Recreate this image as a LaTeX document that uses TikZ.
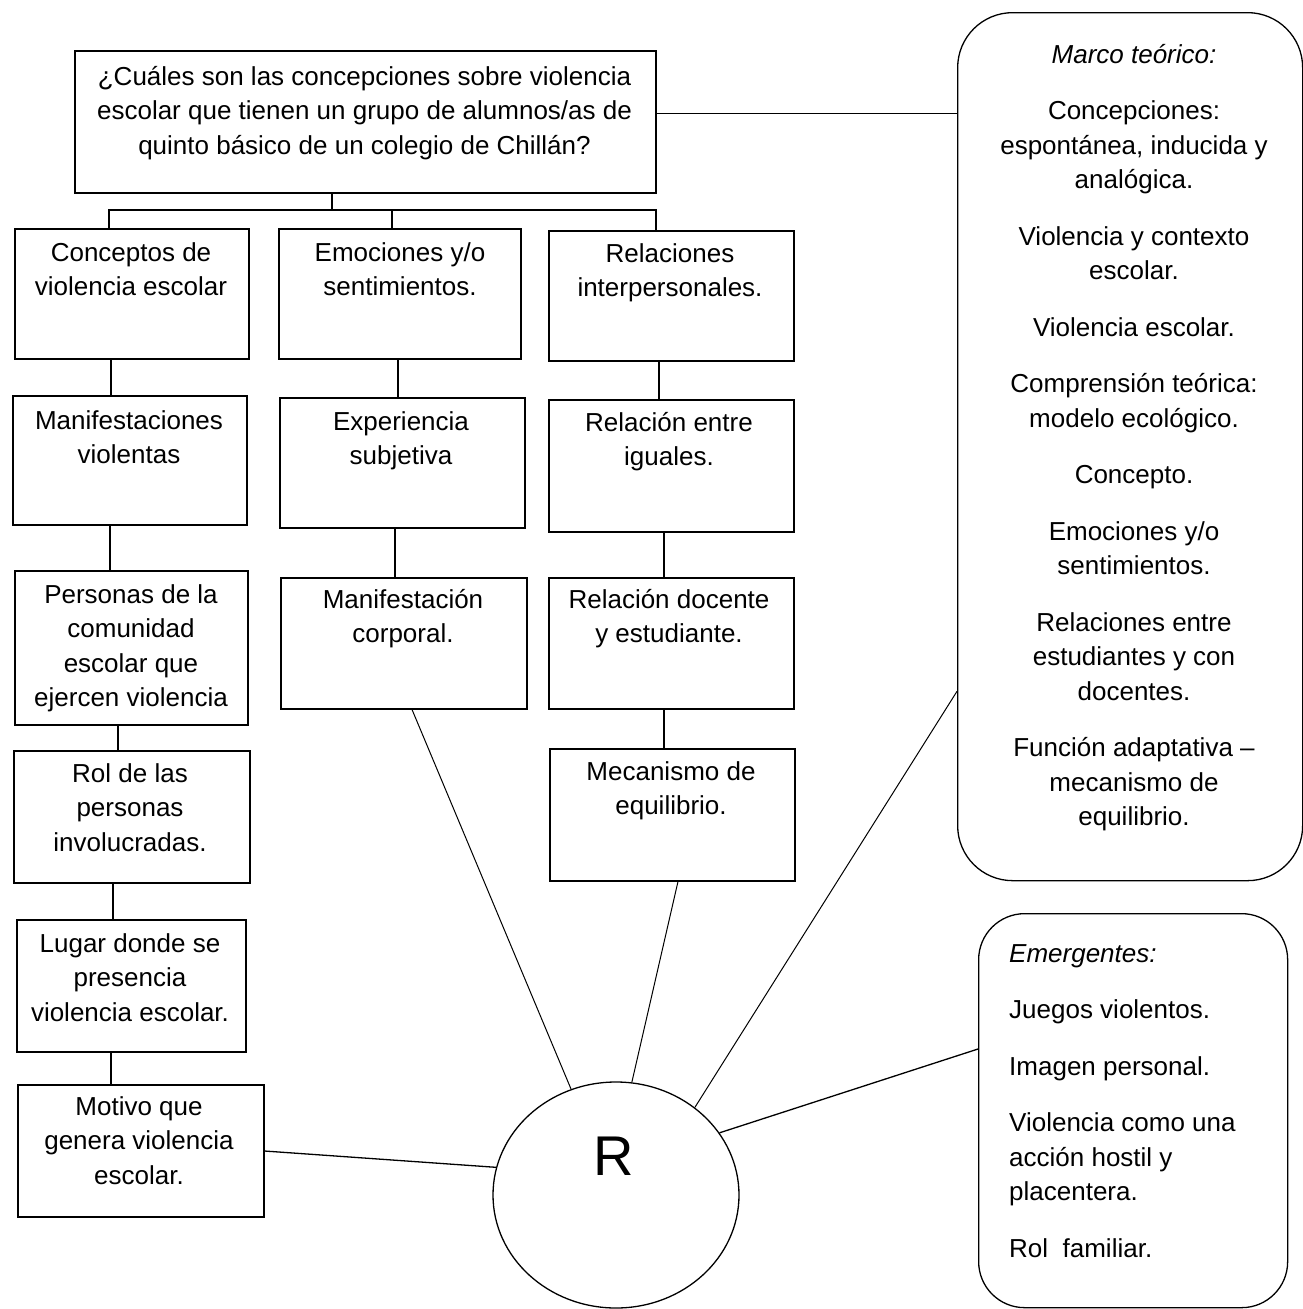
\documentclass[tikz,border=0pt]{standalone}
\usepackage{fontspec}
\setmainfont{Liberation Sans}
\usetikzlibrary{shapes.geometric}
\newcommand\tst{\rule{0pt}{24pt}}
\begin{document}
\begin{tikzpicture}[x=1pt,y=-1pt,
  box/.style={draw, line width=1.5pt, inner sep=0pt, anchor=north west},
  rbox/.style={draw, line width=1.3pt, inner sep=0pt, anchor=north west},
  txt/.style={inner sep=0pt, anchor=north, align=center, font=\fontsize{26}{34.5}\selectfont},
  conn/.style={line width=1.3pt},
  thinl/.style={line width=1pt}]
\useasboundingbox (0,0) rectangle (1303,1309);
\clip (0,0) rectangle (1303,1309);

% boxes
\node[box, minimum width=581pt, minimum height=142pt] (top) at (74,50) {};
\node[box, minimum width=234pt, minimum height=130pt] (a1) at (14,228) {};
\node[box, minimum width=242pt, minimum height=130pt] (b1) at (278,228) {};
\node[box, minimum width=245pt, minimum height=130pt] (c1) at (548,230) {};
\node[box, minimum width=234pt, minimum height=129pt] (a2) at (12,395) {};
\node[box, minimum width=245pt, minimum height=130pt] (b2) at (279,397) {};
\node[box, minimum width=245pt, minimum height=132pt] (c2) at (548,399) {};
\node[box, minimum width=233pt, minimum height=154pt] (a3) at (14,570) {};
\node[box, minimum width=246pt, minimum height=131pt] (b3) at (280,577) {};
\node[box, minimum width=245pt, minimum height=131pt] (c3) at (548,577) {};
\node[box, minimum width=236pt, minimum height=132pt] (a4) at (13,750) {};
\node[box, minimum width=245pt, minimum height=132pt] (c4) at (549,748) {};
\node[box, minimum width=229pt, minimum height=132pt] (a5) at (16,919) {};
\node[box, minimum width=246pt, minimum height=132pt] (a6) at (17,1084) {};

\node[rbox, rounded corners=55pt, minimum width=345pt, minimum height=868pt] (marco) at (957,12) {};
\node[rbox, rounded corners=46pt, minimum width=309pt, minimum height=394pt] (emer) at (978,913) {};
\node[draw, ellipse, line width=1.3pt, minimum width=246pt, minimum height=226pt, inner sep=0pt] (r) at (616,1195) {};

% texts
\node[txt] (topt) at (364.5,61) {\tst¿Cuáles son las concepciones sobre violencia\\escolar que tienen un grupo de alumnos/as de\\quinto básico de un colegio de Chillán?};
\node[txt] (a1t) at (131,237) {\tst Conceptos de\\violencia escolar};
\node[txt] (b1t) at (400,237) {\tst Emociones y/o\\sentimientos.};
\node[txt] (c1t) at (670,238) {\tst Relaciones\\interpersonales.};
\node[txt] (a2t) at (129,405) {\tst Manifestaciones\\violentas};
\node[txt] (b2t) at (401,406) {\tst Experiencia\\subjetiva};
\node[txt] (c2t) at (669,407) {\tst Relación entre\\iguales.};
\node[txt] (a3t) at (131,579) {\tst Personas de la\\comunidad\\escolar que\\ejercen violencia};
\node[txt] (b3t) at (403,584) {\tst Manifestación\\corporal.};
\node[txt] (c3t) at (669,584) {\tst Relación docente\\y estudiante.};
\node[txt] (a4t) at (130,758) {\tst Rol de las\\personas\\involucradas.};
\node[txt] (c4t) at (671,756) {\tst Mecanismo de\\equilibrio.};
\node[txt] (a5t) at (130,928) {\tst Lugar donde se\\presencia\\violencia escolar.};
\node[txt] (a6t) at (139,1091) {\tst Motivo que\\genera violencia\\escolar.};

\node[txt] (marcot) at (1134,39) {\tst\itshape Marco teórico:\\[22pt]
Concepciones:\\espontánea, inducida y\\analógica.\\[22pt]
Violencia y contexto\\escolar.\\[22pt]
Violencia escolar.\\[22pt]
Comprensión teórica:\\modelo ecológico.\\[22pt]
Concepto.\\[22pt]
Emociones y/o\\sentimientos.\\[22pt]
Relaciones entre\\estudiantes y con\\docentes.\\[22pt]
Función adaptativa –\\mecanismo de\\equilibrio.};

\node[txt, anchor=north west, align=left] (emert) at (1009,938) {\tst\itshape Emergentes:\\[22pt]
Juegos violentos.\\[22pt]
Imagen personal.\\[22pt]
Violencia como una\\acción hostil y\\placentera.\\[22pt]
Rol~~familiar.};

\node[inner sep=0pt, anchor=base, font=\fontsize{56}{60}\selectfont] (rt) at (614,1175) {R};

% tree connectors
\coordinate (bus) at (332,210);
\draw[conn] ([xshift=258pt]top.south west) -- ([xshift=258pt]top.south west |- bus);
\draw[conn] ([xshift=95pt]a1.north west) |- ([xshift=108pt]c1.north west |- bus) -- ([xshift=108pt]c1.north west);
\draw[conn] ([xshift=114pt]b1.north west) -- ([xshift=114pt]b1.north west |- bus);

\draw[conn] ([xshift=97pt]a1.south west) -- ([xshift=97pt]a1.south west |- a2.north);
\draw[conn] ([xshift=98pt]a2.south west) -- ([xshift=98pt]a2.south west |- a3.north);
\draw[conn] ([xshift=104pt]a3.south west) -- ([xshift=104pt]a3.south west |- a4.north);
\draw[conn] ([xshift=100pt]a4.south west) -- ([xshift=100pt]a4.south west |- a5.north);
\draw[conn] ([xshift=95pt]a5.south west) -- ([xshift=95pt]a5.south west |- a6.north);
\draw[conn] ([xshift=120pt]b1.south west) -- ([xshift=120pt]b1.south west |- b2.north);
\draw[conn] ([xshift=116pt]b2.south west) -- ([xshift=116pt]b2.south west |- b3.north);
\draw[conn] ([xshift=111pt]c1.south west) -- ([xshift=111pt]c1.south west |- c2.north);
\draw[conn] ([xshift=116pt]c2.south west) -- ([xshift=116pt]c2.south west |- c3.north);
\draw[conn] ([xshift=116pt]c3.south west) -- ([xshift=116pt]c3.south west |- c4.north);

% top box to marco
\draw[conn] ([yshift=8pt]top.east) -- ([yshift=8pt]top.east -| marco.west);

% lines to R
\draw[conn] ([yshift=-67pt]a6.north east) -- (r.167.8);
\draw[thinl] ([xshift=132pt]b3.south west) -- (r.113.7);
\draw[thinl] ([xshift=129pt]c4.south west) -- (r.82.4);
\draw[thinl] ([yshift=190pt]marco.south west) -- (r.48.8);
\draw[conn] ([yshift=-136pt]emer.north west) -- (r.31);
\end{tikzpicture}
\end{document}
